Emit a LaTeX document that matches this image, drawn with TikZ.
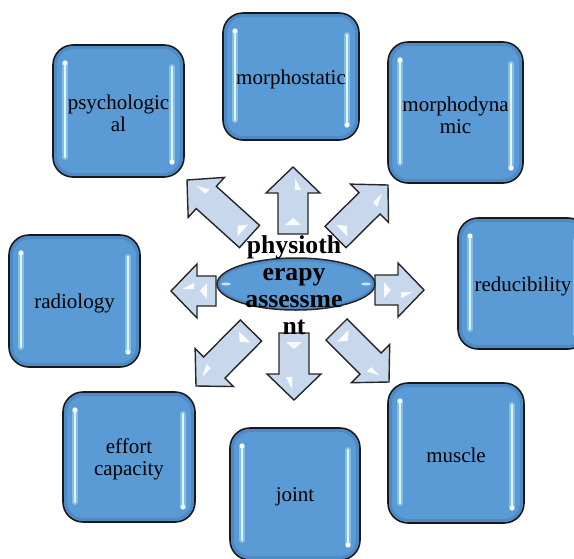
\documentclass[tikz,border=0pt]{standalone}
\usepackage{fontspec}
\setmainfont{Liberation Serif}
\usetikzlibrary{calc}
\definecolor{boxblue}{RGB}{91,155,213}
\definecolor{boxrim}{RGB}{70,128,190}
\definecolor{arrfill}{RGB}{200,216,236}
\definecolor{glow}{RGB}{222,246,255}
\definecolor{glowsoft}{RGB}{150,205,240}
\tikzset{
  bxfill/.style={fill=boxblue, rounded corners=20pt},
  bxrim/.style={draw=boxrim, line width=3pt, rounded corners=18pt, opacity=0.6},
  bxline/.style={draw=black!90, line width=1.6pt, rounded corners=20pt},
  lbl/.style={font=\fontsize{21}{22}\selectfont, align=center, text=black, inner sep=0pt},
  hubtext/.style={font=\bfseries\fontsize{25.7}{27}\selectfont, align=center, text=black, inner sep=0pt},
  arr/.style={draw=black!85, line width=1.4pt, fill=arrfill, line join=miter},
  hl/.style={draw=glow, line width=2.4pt, line cap=round},
  hlsoft/.style={draw=glowsoft, line width=6pt, line cap=round, opacity=0.7},
  shine/.style={fill=white, opacity=0.9},
}
% name, x1, y1, x2, y2, text
\newcommand{\bluebox}[6]{%
  \fill[bxfill] (#2,#3) rectangle (#4,#5);
  \draw[bxrim] (#2+2.5,#3+2.5) rectangle (#4-2.5,#5-2.5);
  \draw[hlsoft] (#2+12,#3+18) -- (#2+12,#5-20);
  \draw[hlsoft] (#4-12,#3+22) -- (#4-12,#5-15);
  \draw[hl] (#2+12,#3+18) -- (#2+12,#5-20);
  \draw[hl] (#4-12,#3+22) -- (#4-12,#5-15);
  \fill[white] (#2+12,#3+18) circle[radius=2.4pt];
  \fill[white] (#4-12,#5-15) circle[radius=2.4pt];
  \draw[bxline] (#2,#3) rectangle (#4,#5);
  \node[lbl] (#1) at ({(#2+#4)/2},{(#3+#5)/2+2.5}) {#6};
}
% tail coordinate, tip coordinate
\newcommand{\blockarrow}[2]{%
  \coordinate (hb) at ($(#2)!26pt!(#1)$);
  \draw[arr] ($(#1)!15pt!90:(#2)$) -- ($(hb)!15pt!-90:(#1)$) -- ($(hb)!27pt!-90:(#1)$)
     -- (#2) -- ($(hb)!27pt!90:(#1)$) -- ($(hb)!15pt!90:(#1)$) -- ($(#1)!15pt!-90:(#2)$) -- cycle;
  \coordinate (ta) at ($(#1)!9pt!(#2)$);
  \coordinate (tb) at ($(#1)!16pt!(#2)$);
  \fill[shine] ($(ta)!8pt!90:(#2)$) -- (tb) -- ($(ta)!8pt!-90:(#2)$) -- cycle;
  \coordinate (ha) at ($(#2)!23pt!(#1)$);
  \coordinate (hc) at ($(#2)!11pt!(#1)$);
  \fill[shine] ($(ha)!2pt!-90:(#2)$) -- ($(ha)!8pt!-90:(#2)$) -- ($(hc)!2pt!-90:(#2)$) -- cycle;
}
\begin{document}
\begin{tikzpicture}[x=1pt, y=-1pt]
\useasboundingbox (0,0) rectangle (574,558);
\clip (0,0) rectangle (574,558);
\fill[white] (0,0) rectangle (574,558);

\bluebox{psych}{53}{45}{184}{177}{psychologic\\al}
\bluebox{mstat}{223}{13}{359}{140}{morphostatic}
\bluebox{mdyn}{388}{42}{523}{183}{morphodyna\\mic}
\bluebox{reduc}{458}{218}{588}{349}{reducibility}
\bluebox{radio}{9}{235}{140}{367}{radiology}
\bluebox{effort}{63}{392}{195}{522}{effort\\capacity}
\bluebox{joint}{230}{428}{360}{560}{joint}
\bluebox{muscle}{388}{383}{524}{523}{muscle}

% arrow tails and tips
\coordinate (upT) at (293,234);     \coordinate (upP) at (293,167);
\coordinate (dnT) at (294,333);     \coordinate (dnP) at (294,400);
\coordinate (lfT) at (216,291);     \coordinate (lfP) at (171,291);
\coordinate (rtT) at (375,290);     \coordinate (rtP) at (424,290);
\coordinate (ulT) at (249.5,236.5); \coordinate (ulP) at (187,180);
\coordinate (urT) at (335.5,237);   \coordinate (urP) at (388,185);
\coordinate (llT) at (251,330.5);   \coordinate (llP) at (196,386);
\coordinate (lrT) at (336.5,329.5); \coordinate (lrP) at (389,382);

\blockarrow{upT}{upP}
\blockarrow{dnT}{dnP}
\blockarrow{lfT}{lfP}
\blockarrow{rtT}{rtP}
\blockarrow{ulT}{ulP}
\blockarrow{urT}{urP}
\blockarrow{llT}{llP}
\blockarrow{lrT}{lrP}

% hub
\fill[boxblue] (296,284) ellipse[x radius=79pt, y radius=26pt];
\draw[boxrim, line width=2.5pt, opacity=0.6] (296,284) ellipse[x radius=77pt, y radius=24pt];
\fill[white, opacity=0.7] (226,284) ellipse[x radius=5pt, y radius=1.5pt];
\fill[white, opacity=0.7] (366,284) ellipse[x radius=5pt, y radius=1.5pt];
\draw[black!85, line width=1.5pt] (296,284) ellipse[x radius=79pt, y radius=26pt];
\node[hubtext] (hub) at (294,285) {physioth\\erapy\\assessme\\nt};
\end{tikzpicture}
\end{document}
